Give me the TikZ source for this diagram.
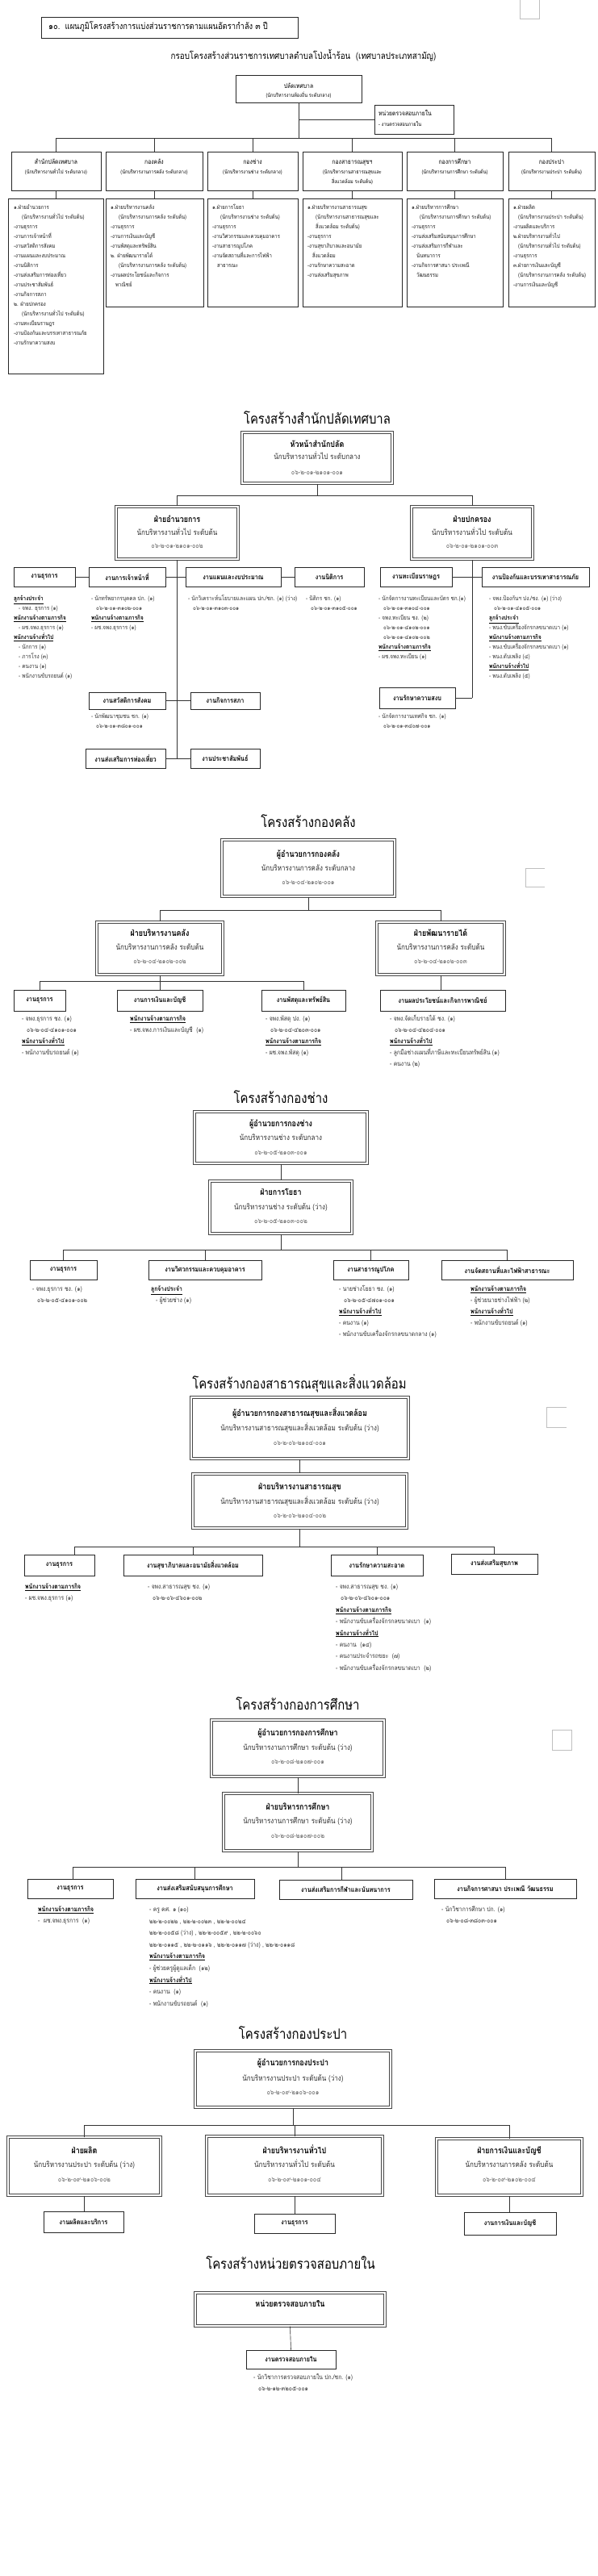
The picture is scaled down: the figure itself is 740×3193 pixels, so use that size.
\documentclass[tikz,border=0pt]{standalone}
\usepackage{fontspec}
\setmainfont[Script=Thai,FakeStretch=0.85]{Loma}
\usetikzlibrary{calc}
\newcommand\fsz[1]{\fontsize{#1}{#1}\selectfont}
\newcommand\hd[1]{{\color{black}\underline{\textbf{#1}}}}
\newcommand\ind{\hspace*{6pt}}
\newcommand\indd{\hspace*{10pt}}
\newcommand\bx[7][]{\node[#1,minimum width={(#4)-(#2)},minimum height={(#5)-(#3)}] (#6) at ({((#2)+(#4))/2},{((#3)+(#5))/2}) {#7};}
\newcommand\tc[4][]{\node[txt,#1] at (#2,#3) {#4};}
\newcommand\tlist[5][]{\foreach \s [count=\i from 0] in {#5} {\node[txt,anchor=west,#1] at (#2,{#3+\i*#4}) {\s};}}
\begin{document}
\begin{tikzpicture}[x=1pt,y=-1pt,
 txt/.style={inner sep=0pt,text height=0.55em,text depth=0.05em},
 bx/.style={draw=black!85,line width=0.75pt,fill=white,inner sep=0pt},
 dbx/.style={draw=black!72,double=white,double distance=1.2pt,line width=1.05pt,fill=white,inner sep=0pt},
 ln/.style={draw=black!80,line width=0.65pt},
 art/.style={draw=black!25,line width=0.6pt},
 fsec/.style={font=\fsz{17.5}},
 fbt/.style={font=\bfseries\fsz{10.5}},
 fsub/.style={font=\fsz{9.5},text=black!82},
 fcod/.style={font=\fsz{8.5},text=black!62},
 flab/.style={font=\bfseries\fsz{8.5}},
 fdet/.style={font=\fsz{8},text=black!80},
 ftop/.style={font=\fsz{7},text=black!90},
]
\useasboundingbox[fill=white] (0,0) rectangle (740,3193);

% ================= overall chart =================
\draw[art] (644,0) -- (644,23) -- (668,23) -- (668,0);
\bx[bx,line width=0.9pt]{51}{21}{369}{47}{ttl}{}
\node[txt,anchor=west,font=\fsz{11}] at (60,34) {๑๐.\ \ แผนภูมิโครงสร้างการแบ่งส่วนราชการตามแผนอัตรากำลัง ๓ ปี};
\tc[font=\fsz{11.5}]{376}{71}{กรอบโครงสร้างส่วนราชการเทศบาลตำบลโป่งน้ำร้อน\ \ (เทศบาลประเภทสามัญ)}
\bx[bx]{292}{93}{448}{127}{pl}{}
\tc[font=\fsz{8}]{370}{107}{ปลัดเทศบาล}
\tc[font=\fsz{6.5}]{370}{118}{(นักบริหารงานท้องถิ่น ระดับกลาง)}
\bx[bx]{464}{130}{562}{166}{ia}{}
\node[txt,anchor=west,font=\fsz{8}] at (469,141) {หน่วยตรวจสอบภายใน};
\node[txt,anchor=west,font=\fsz{6.5}] at (469,154) {- งานตรวจสอบภายใน};
\draw[ln] (pl.south) -- ++(0,44) coordinate (b1);
\draw[ln] (ia.west) -- (ia.west -| pl.south);

\bx[bx]{14}{188}{125}{236}{d1}{}
\bx[bx]{131}{188}{251}{236}{d2}{}
\bx[bx]{257}{188}{369}{236}{d3}{}
\bx[bx]{375}{188}{498}{236}{d4}{}
\bx[bx]{504}{188}{623}{236}{d5}{}
\bx[bx]{630}{188}{737}{236}{d6}{}
\foreach \n in {d1,d2,d3,d4,d5,d6} {\draw[ln] (\n.north) |- (b1);}
\tc[font=\fsz{8}]{69.5}{201}{สำนักปลัดเทศบาล}
\tc[font=\fsz{6.5}]{69.5}{213}{(นักบริหารงานทั่วไป ระดับกลาง)}
\tc[font=\fsz{8}]{191}{201}{กองคลัง}
\tc[font=\fsz{6.5}]{191}{213}{(นักบริหารงานการคลัง ระดับกลาง)}
\tc[font=\fsz{8}]{313}{201}{กองช่าง}
\tc[font=\fsz{6.5}]{313}{213}{(นักบริหารงานช่าง ระดับกลาง)}
\tc[font=\fsz{8}]{436.5}{201}{กองสาธารณสุขฯ}
\tc[font=\fsz{6.5}]{436.5}{213}{(นักบริหารงานสาธารณสุขและ}
\tc[font=\fsz{6.5}]{436.5}{225}{สิ่งแวดล้อม ระดับต้น)}
\tc[font=\fsz{8}]{563.5}{201}{กองการศึกษา}
\tc[font=\fsz{6.5}]{563.5}{213}{(นักบริหารงานการศึกษา ระดับต้น)}
\tc[font=\fsz{8}]{683.5}{201}{กองประปา}
\tc[font=\fsz{6.5}]{683.5}{213}{(นักบริหารงานประปา ระดับต้น)}

\bx[bx]{10}{246}{128}{463}{l1}{}
\bx[bx]{131}{246}{252}{380}{l2}{}
\bx[bx]{257}{246}{369}{380}{l3}{}
\bx[bx]{375}{246}{498}{380}{l4}{}
\bx[bx]{504}{246}{623}{380}{l5}{}
\bx[bx]{630}{246}{737}{380}{l6}{}
\foreach \a/\b in {d1/l1,d2/l2,d3/l3,d4/l4,d5/l5,d6/l6} {\draw[ln] (\a.south) -- (\a.south |- \b.north);}
\tlist[ftop]{17}{257}{12}{๑.ฝ่ายอำนวยการ,\indd(นักบริหารงานทั่วไป ระดับต้น),-งานธุรการ,-งานการเจ้าหน้าที่,-งานสวัสดิการสังคม,-งานแผนและงบประมาณ,-งานนิติการ,-งานส่งเสริมการท่องเที่ยว,-งานประชาสัมพันธ์,-งานกิจการสภา,๒. ฝ่ายปกครอง,\indd(นักบริหารงานทั่วไป ระดับต้น),-งานทะเบียนราษฎร,-งานป้องกันและบรรเทาสาธารณภัย,-งานรักษาความสงบ}
\tlist[ftop]{137}{257}{12}{๑.ฝ่ายบริหารงานคลัง,\indd(นักบริหารงานการคลัง ระดับต้น),-งานธุรการ,-งานการเงินและบัญชี,-งานพัสดุและทรัพย์สิน,๒. ฝ่ายพัฒนารายได้,\indd(นักบริหารงานการคลัง ระดับต้น),-งานผลประโยชน์และกิจการ,\ind พาณิชย์}
\tlist[ftop]{263}{257}{12}{๑.ฝ่ายการโยธา,\indd(นักบริหารงานช่าง ระดับต้น),-งานธุรการ,-งานวิศวกรรมและควบคุมอาคาร,-งานสาธารณูปโภค,-งานจัดสถานที่และการไฟฟ้า,\ind สาธารณะ}
\tlist[ftop]{381}{257}{12}{๑.ฝ่ายบริหารงานสาธารณสุข,\indd(นักบริหารงานสาธารณสุขและ,\indd สิ่งแวดล้อม ระดับต้น),-งานธุรการ,-งานสุขาภิบาลและอนามัย,\ind สิ่งแวดล้อม,-งานรักษาความสะอาด,-งานส่งเสริมสุขภาพ}
\tlist[ftop]{510}{257}{12}{๑.ฝ่ายบริหารการศึกษา,\indd(นักบริหารงานการศึกษา ระดับต้น),-งานธุรการ,-งานส่งเสริมสนับสนุนการศึกษา,-งานส่งเสริมการกีฬาและ,\ind นันทนาการ,-งานกิจการศาสนา ประเพณี,\ind วัฒนธรรม}
\tlist[ftop]{636}{257}{12}{๑.ฝ่ายผลิต,\ind(นักบริหารงานประปา ระดับต้น),-งานผลิตและบริการ,๒.ฝ่ายบริหารงานทั่วไป,\ind(นักบริหารงานทั่วไป ระดับต้น),-งานธุรการ,๓.ฝ่ายการเงินและบัญชี,\ind(นักบริหารงานการคลัง ระดับต้น),-งานการเงินและบัญชี}

% ================= สำนักปลัด =================
\tc[fsec]{393}{523}{โครงสร้างสำนักปลัดเทศบาล}
\bx[dbx]{300}{536}{486}{599}{hs}{}
\tc[fbt]{393}{552}{หัวหน้าสำนักปลัด}
\tc[fsub]{393}{567}{นักบริหารงานทั่วไป ระดับกลาง}
\tc[fcod]{393}{586}{๐๖-๒-๐๑-๒๑๐๑-๐๐๑}
\bx[dbx]{144}{628}{295}{693}{adm}{}
\tc[fbt]{219.5}{645}{ฝ่ายอำนวยการ}
\tc[fsub]{219.5}{661}{นักบริหารงานทั่วไป ระดับต้น}
\tc[fcod]{219.5}{677}{๐๖-๒-๐๑-๒๑๐๑-๐๐๒}
\bx[dbx]{510}{628}{660}{693}{pk}{}
\tc[fbt]{585}{645}{ฝ่ายปกครอง}
\tc[fsub]{585}{661}{นักบริหารงานทั่วไป ระดับต้น}
\tc[fcod]{585}{677}{๐๖-๒-๐๑-๒๑๐๑-๐๐๓}
\draw[ln] (hs.south) -- ++(0,15) coordinate (b2);
\draw[ln] (adm.north) |- (b2);
\draw[ln] (pk.north) |- (b2);

\bx[bx,flab]{17}{703}{93}{727}{ra}{งานธุรการ}
\bx[bx,flab]{110}{703}{205}{727}{rb}{งานการเจ้าหน้าที่}
\bx[bx,flab]{230}{703}{348}{727}{rc}{งานแผนและงบประมาณ}
\bx[bx,flab]{365}{703}{451}{727}{rd}{งานนิติการ}
\bx[bx,flab]{110}{858}{205}{879}{re}{งานสวัสดิการสังคม}
\bx[bx,flab]{236}{858}{322}{879}{rf}{งานกิจการสภา}
\bx[bx,flab]{106}{928}{205}{952}{rg}{งานส่งเสริมการท่องเที่ยว}
\bx[bx,flab]{236}{928}{322}{952}{rh}{งานประชาสัมพันธ์}
\draw[ln] (adm.south) -- (adm.south |- rg.east);
\draw[ln] (ra.east) -- (rb.west);
\draw[ln] (rb.east) -- (rc.west);
\draw[ln] (rc.east) -- (rd.west);
\draw[ln] (re.east) -- (rf.west);
\draw[ln] (rg.east) -- (rh.west);
\bx[bx,flab]{471}{703}{560}{727}{rk}{งานทะเบียนราษฎร}
\bx[bx,flab]{597}{703}{730}{727}{rl}{งานป้องกันและบรรเทาสาธารณภัย}
\bx[bx,flab]{470}{852}{564}{878}{rm}{งานรักษาความสงบ}
\draw[ln] (pk.south) -- (pk.south |- rm.east);
\draw[ln] (rk.east) -- (rl.west);
\draw[ln] (rm.east) -- (rm.east -| pk.south);

\tlist[fdet,font=\fsz{7.5}]{17}{742}{12}{\hd{ลูกจ้างประจำ},\ind- จพง. ธุรการ (๑),\hd{พนักงานจ้างตามภารกิจ},\ind- ผช.จพง.ธุรการ (๑),\hd{พนักงานจ้างทั่วไป},\ind- นักการ (๑),\ind- ภารโรง (๓),\ind- คนงาน (๑),\ind- พนักงานขับรถยนต์ (๑)}
\tlist[fdet,font=\fsz{7.5}]{113}{742}{12}{- นักทรัพยากรบุคคล ปก. (๑),\ind ๐๖-๒-๐๑-๓๑๐๒-๐๐๑,\hd{พนักงานจ้างตามภารกิจ},- ผช.จพง.ธุรการ (๑)}
\tlist[fdet,font=\fsz{7.5}]{233}{742}{12}{- นักวิเคราะห์นโยบายและแผน ปก./ชก. (๑) (ว่าง),\ind ๐๖-๒-๐๑-๓๑๐๓-๐๐๑}
\tlist[fdet,font=\fsz{7.5}]{379}{742}{12}{- นิติกร ชก. (๑),\ind ๐๖-๒-๐๑-๓๑๐๕-๐๐๑}
\tlist[fdet,font=\fsz{7.5}]{113}{888}{12}{- นักพัฒนาชุมชน ชก. (๑),\ind ๐๖-๒-๐๑-๓๘๐๑-๐๐๑}
\tlist[fdet,font=\fsz{7.5}]{469}{742}{12}{- นักจัดการงานทะเบียนและบัตร ชก.(๑),\ind ๐๖-๒-๐๑-๓๑๐๔-๐๐๑,- จพง.ทะเบียน ชง. (๒),\ind ๐๖-๒-๐๑-๔๑๐๒-๐๐๑,\ind ๐๖-๒-๐๑-๔๑๐๒-๐๐๒,\hd{พนักงานจ้างตามภารกิจ},- ผช.จพง.ทะเบียน (๑)}
\tlist[fdet,font=\fsz{7.5}]{606}{742}{12}{- จพง.ป้องกันฯ ปง./ชง. (๑) (ว่าง),\ind ๐๖-๒-๐๑-๔๑๐๕-๐๐๑,\hd{ลูกจ้างประจำ},- พนง.ขับเครื่องจักรกลขนาดเบา (๑),\hd{พนักงานจ้างตามภารกิจ},- พนง.ขับเครื่องจักรกลขนาดเบา (๑),- พนง.ดับเพลิง (๔),\hd{พนักงานจ้างทั่วไป},- พนง.ดับเพลิง (๕)}
\tlist[fdet,font=\fsz{7.5}]{469}{888}{12}{- นักจัดการงานเทศกิจ ชก. (๑),\ind ๐๖-๒-๐๑-๓๔๐๗-๐๐๑}

% ================= กองคลัง =================
\draw[art] (675,1076) -- (651,1076) -- (651,1099) -- (675,1099);
\tc[fsec]{382}{1023}{โครงสร้างกองคลัง}
\bx[dbx]{275}{1041}{489}{1111}{fk1}{}
\tc[fbt]{382}{1060}{ผู้อำนวยการกองคลัง}
\tc[fsub]{382}{1077}{นักบริหารงานการคลัง ระดับกลาง}
\tc[fcod]{382}{1094}{๐๖-๒-๐๔-๒๑๐๒-๐๐๑}
\bx[dbx]{120}{1143}{276}{1208}{fk2}{}
\tc[fbt]{198}{1158}{ฝ่ายบริหารงานคลัง}
\tc[fsub]{198}{1175}{นักบริหารงานการคลัง ระดับต้น}
\tc[fcod]{198}{1192}{๐๖-๒-๐๔-๒๑๐๒-๐๐๒}
\bx[dbx]{467}{1143}{625}{1208}{fk3}{}
\tc[fbt]{546}{1158}{ฝ่ายพัฒนารายได้}
\tc[fsub]{546}{1175}{นักบริหารงานการคลัง ระดับต้น}
\tc[fcod]{546}{1192}{๐๖-๒-๐๔-๒๑๐๒-๐๐๓}
\draw[ln] (fk1.south) -- ++(0,17) coordinate (b3);
\draw[ln] (fk2.north) |- (b3);
\draw[ln] (fk3.north) |- (b3);
\bx[bx,flab]{17}{1227}{81}{1253}{k1}{งานธุรการ}
\bx[bx,flab]{145}{1227}{251}{1253}{k2}{งานการเงินและบัญชี}
\bx[bx,flab]{324}{1227}{428}{1253}{k3}{งานพัสดุและทรัพย์สิน}
\bx[bx,flab]{471}{1227}{626}{1253}{k4}{งานผลประโยชน์และกิจการพาณิชย์}
\draw[ln] (fk2.south) -- ++(0,8) coordinate (b4);
\draw[ln] (k1.north) |- (b4);
\draw[ln] (k2.north) |- (b4);
\draw[ln] (k3.north) |- (b4);
\draw[ln] (fk3.south) -- (fk3.south |- k4.north);
\tlist[fdet]{27}{1263}{14}{- จพง.ธุรการ ชง. (๑),\ind ๐๖-๒-๐๔-๔๑๐๑-๐๐๑,\hd{พนักงานจ้างทั่วไป},- พนักงานขับรถยนต์ (๑)}
\tlist[fdet]{161}{1263}{14}{\hd{พนักงานจ้างตามภารกิจ},- ผช.จพง.การเงินและบัญชี\ \ (๑)}
\tlist[fdet]{329}{1263}{14}{- จพง.พัสดุ ปง. (๑),\ind ๐๖-๒-๐๔-๔๒๐๓-๐๐๑,\hd{พนักงานจ้างตามภารกิจ},- ผช.จพง.พัสดุ (๑)}
\tlist[fdet]{483}{1263}{14}{- จพง.จัดเก็บรายได้ ชง. (๑),\ind ๐๖-๒-๐๔-๔๒๐๔-๐๐๑,\hd{พนักงานจ้างทั่วไป},- ลูกมือช่างแผนที่ภาษีและทะเบียนทรัพย์สิน (๑),- คนงาน (๒)}

% ================= กองช่าง =================
\tc[fsec]{348}{1365}{โครงสร้างกองช่าง}
\bx[dbx]{241}{1378}{455}{1442}{c1}{}
\tc[fbt]{348}{1394}{ผู้อำนวยการกองช่าง}
\tc[fsub]{348}{1411}{นักบริหารงานช่าง ระดับกลาง}
\tc[fcod]{348}{1429}{๐๖-๒-๐๕-๒๑๐๓-๐๐๑}
\bx[dbx]{260}{1464}{436}{1529}{c2}{}
\tc[fbt]{348}{1479}{ฝ่ายการโยธา}
\tc[fsub]{348}{1497}{นักบริหารงานช่าง ระดับต้น (ว่าง)}
\tc[fcod]{348}{1514}{๐๖-๒-๐๕-๒๑๐๓-๐๐๒}
\draw[ln] (c1.south) -- (c2.north);
\draw[ln] (c2.south) -- ++(0,20) coordinate (b5);
\bx[bx,flab]{37}{1562}{120}{1586}{c3}{งานธุรการ}
\bx[bx,flab]{184}{1562}{324}{1586}{c4}{งานวิศวกรรมและควบคุมอาคาร}
\bx[bx,flab]{413}{1562}{506}{1586}{c5}{งานสาธารณูปโภค}
\bx[bx,flab]{547}{1562}{710}{1586}{c6}{งานจัดสถานที่และไฟฟ้าสาธารณะ}
\foreach \n in {c3,c4,c5,c6} {\draw[ln] (\n.north) |- (b5);}
\tlist[fdet]{40}{1598}{14}{- จพง.ธุรการ ชง. (๑),\ind ๐๖-๒-๐๕-๔๑๐๑-๐๐๒}
\tlist[fdet]{187}{1598}{14}{\hd{ลูกจ้างประจำ},\ind- ผู้ช่วยช่าง (๑)}
\tlist[fdet]{420}{1598}{14}{- นายช่างโยธา ชง. (๑),\ind ๐๖-๒-๐๕-๔๗๐๑-๐๐๑,\hd{พนักงานจ้างทั่วไป},- คนงาน (๑),- พนักงานขับเครื่องจักรกลขนาดกลาง (๑)}
\tlist[fdet]{583}{1598}{14}{\hd{พนักงานจ้างตามภารกิจ},- ผู้ช่วยนายช่างไฟฟ้า (๒),\hd{พนักงานจ้างทั่วไป},- พนักงานขับรถยนต์ (๑)}

% ================= กองสาธารณสุข =================
\draw[art] (702,1744) -- (677,1744) -- (677,1769) -- (702,1769);
\tc[fsec]{371}{1719}{โครงสร้างกองสาธารณสุขและสิ่งแวดล้อม}
\bx[dbx]{237}{1732}{506}{1808}{s1}{}
\tc[fbt]{371.5}{1753}{ผู้อำนวยการกองสาธารณสุขและสิ่งแวดล้อม}
\tc[fsub]{371.5}{1771}{นักบริหารงานสาธารณสุขและสิ่งแวดล้อม ระดับต้น (ว่าง)}
\tc[fcod]{371.5}{1789}{๐๖-๒-๐๖-๒๑๐๔-๐๐๑}
\bx[dbx]{239}{1827}{504}{1894}{s2}{}
\tc[fbt]{371.5}{1844}{ฝ่ายบริหารงานสาธารณสุข}
\tc[fsub]{371.5}{1862}{นักบริหารงานสาธารณสุขและสิ่งแวดล้อม ระดับต้น (ว่าง)}
\tc[fcod]{371.5}{1879}{๐๖-๒-๐๖-๒๑๐๔-๐๐๒}
\draw[ln] (s1.south) -- (s2.north);
\draw[ln] (s2.south) -- ++(0,23) coordinate (b6);
\bx[bx,flab]{30}{1927}{117}{1953}{s3}{งานธุรการ}
\bx[bx,flab]{153}{1927}{325}{1953}{s4}{งานสุขาภิบาลและอนามัยสิ่งแวดล้อม}
\bx[bx,flab]{410}{1927}{524}{1953}{s5}{งานรักษาความสะอาด}
\bx[bx,flab]{559}{1926}{666}{1951}{s6}{งานส่งเสริมสุขภาพ}
\draw[ln] ($(s3.north)+(19,0)$) |- (b6);
\foreach \n in {s4,s5,s6} {\draw[ln] (\n.north) |- (b6);}
\tlist[fdet]{31}{1967}{14}{\hd{พนักงานจ้างตามภารกิจ},- ผช.จพง.ธุรการ (๑)}
\tlist[fdet]{183}{1967}{14}{- จพง.สาธารณสุข ชง. (๑),\ind ๐๖-๒-๐๖-๔๖๐๑-๐๐๒}
\tlist[fdet]{416}{1967}{14.4}{- จพง.สาธารณสุข ชง. (๑),\ind ๐๖-๒-๐๖-๔๖๐๑-๐๐๑,\hd{พนักงานจ้างตามภารกิจ},- พนักงานขับเครื่องจักรกลขนาดเบา\ \ (๑),\hd{พนักงานจ้างทั่วไป},- คนงาน\ \ (๑๔),- คนงานประจำรถขยะ\ \ (๗),- พนักงานขับเครื่องจักรกลขนาดเบา\ \ (๒)}

% ================= กองการศึกษา =================
\draw[art] (684,2144) rectangle (708,2169);
\tc[fsec]{369}{2117}{โครงสร้างกองการศึกษา}
\bx[dbx]{262}{2132}{476}{2202}{e1}{}
\tc[fbt]{369}{2149}{ผู้อำนวยการกองการศึกษา}
\tc[fsub]{369}{2167}{นักบริหารงานการศึกษา ระดับต้น (ว่าง)}
\tc[fcod]{369}{2184}{๐๖-๒-๐๘-๒๑๐๗-๐๐๑}
\bx[dbx]{277}{2223}{461}{2294}{e2}{}
\tc[fbt]{369}{2241}{ฝ่ายบริหารการศึกษา}
\tc[fsub]{369}{2258}{นักบริหารงานการศึกษา ระดับต้น (ว่าง)}
\tc[fcod]{369}{2276}{๐๖-๒-๐๘-๒๑๐๗-๐๐๒}
\draw[ln] (e1.south) -- (e2.north);
\draw[ln] (e2.south) -- ++(0,20) coordinate (b7);
\bx[bx,flab]{34}{2329}{140}{2353}{e3}{งานธุรการ}
\bx[bx,flab]{168}{2329}{315}{2353}{e4}{งานส่งเสริมสนับสนุนการศึกษา}
\bx[bx,flab]{346}{2330}{511}{2354}{e5}{งานส่งเสริมการกีฬาและนันทนาการ}
\bx[bx,flab]{538}{2329}{714}{2353}{e6}{งานกิจการศาสนา ประเพณี วัฒนธรรม}
\draw[ln] ($(e3.north)+(3,0)$) |- (b7);
\draw[ln] (e4.north) |- (b7);
\draw[ln] ($(e5.north)+(-5,0)$) |- (b7);
\draw[ln] (e6.north) |- (b7);
\tlist[fdet]{47}{2367}{14}{\hd{พนักงานจ้างตามภารกิจ},-\ \ ผช.จพง.ธุรการ\ \ (๑)}
\tlist[fdet]{185}{2367}{14.6}{- ครู คศ. ๑ (๑๐),{๒๒-๒-๐๐๒๒ , ๒๒-๒-๐๐๒๓ , ๒๒-๒-๐๐๒๔},{๒๒-๒-๐๐๕๘ (ว่าง) , ๒๒-๒-๐๐๕๙ , ๒๒-๒-๐๐๖๐},{๒๒-๒-๐๑๑๕ , ๒๒-๒-๐๑๑๖ , ๒๒-๒-๐๑๑๗ (ว่าง) , ๒๒-๒-๐๑๑๘},\hd{พนักงานจ้างตามภารกิจ},- ผู้ช่วยครูผู้ดูแลเด็ก\ \ (๑๒),\hd{พนักงานจ้างทั่วไป},- คนงาน\ \ (๑),- พนักงานขับรถยนต์\ \ (๑)}
\tlist[fdet]{547}{2367}{14}{- นักวิชาการศึกษา ปก. (๑),\ind ๐๖-๒-๐๘-๓๘๐๓-๐๐๑}

% ================= กองประปา =================
\tc[fsec]{363}{2525}{โครงสร้างกองประปา}
\bx[dbx]{242}{2542}{484}{2612}{p1}{}
\tc[fbt]{363}{2558}{ผู้อำนวยการกองประปา}
\tc[fsub]{363}{2577}{นักบริหารงานประปา ระดับต้น (ว่าง)}
\tc[fcod]{363}{2594}{๐๖-๒-๐๙-๒๑๐๖-๐๐๑}
\draw[ln] (p1.south) -- ++(0,22) coordinate (b8);
\bx[dbx]{10}{2649}{199}{2721}{p2}{}
\tc[fbt]{104.5}{2667}{ฝ่ายผลิต}
\tc[fsub]{104.5}{2684}{นักบริหารงานประปา ระดับต้น (ว่าง)}
\tc[fcod]{104.5}{2702}{๐๖-๒-๐๙-๒๑๐๖-๐๐๒}
\bx[dbx]{256}{2648}{474}{2721}{p3}{}
\tc[fbt]{365}{2667}{ฝ่ายบริหารงานทั่วไป}
\tc[fsub]{365}{2684}{นักบริหารงานทั่วไป ระดับต้น}
\tc[fcod]{365}{2702}{๐๖-๒-๐๙-๒๑๐๑-๐๐๔}
\bx[dbx]{541}{2651}{721}{2721}{p4}{}
\tc[fbt]{631}{2667}{ฝ่ายการเงินและบัญชี}
\tc[fsub]{631}{2684}{นักบริหารงานการคลัง ระดับต้น}
\tc[fcod]{631}{2702}{๐๖-๒-๐๙-๒๑๐๒-๐๐๔}
\foreach \n in {p2,p3,p4} {\draw[ln] (\n.north) |- (b8);}
\bx[bx,flab]{54}{2741}{153}{2767}{p5}{งานผลิตและบริการ}
\bx[bx,flab]{315}{2744}{415}{2768}{p6}{งานธุรการ}
\bx[bx,flab]{575}{2742}{689}{2770}{p7}{งานการเงินและบัญชี}
\draw[ln] (p2.south) -- (p2.south |- p5.north);
\draw[ln] (p3.south) -- (p3.south |- p6.north);
\draw[ln] (p4.south) -- (p4.south |- p7.north);

% ================= หน่วยตรวจสอบภายใน =================
\tc[fsec]{360}{2810}{โครงสร้างหน่วยตรวจสอบภายใน}
\bx[dbx]{242}{2842}{477}{2883}{i1}{}
\tc[fbt]{359.5}{2857}{หน่วยตรวจสอบภายใน}
\bx[bx,flab]{305}{2913}{416}{2936}{i2}{งานตรวจสอบภายใน}
\draw[ln] (i1.south) -- (i2.north);
\tlist[fdet]{314}{2947}{14}{- นักวิชาการตรวจสอบภายใน ปก./ชก. (๑),\ind ๐๖-๒-๑๒-๓๒๐๕-๐๐๑}
\end{tikzpicture}
\end{document}
